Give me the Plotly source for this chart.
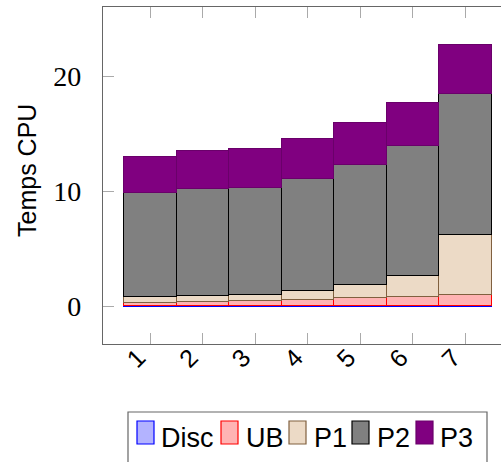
import plotly.graph_objects as go

categories = [1, 2, 3, 4, 5, 6, 7]
tick_labels = ["1", "2", "3", "4", "5", "6", "7"]
disc = [0.05, 0.05, 0.05, 0.05, 0.05, 0.05, 0.05]
ub = [0.24, 0.36, 0.47, 0.56, 0.73, 0.82, 0.99]
p1 = [0.52, 0.52, 0.50, 0.72, 1.13, 1.83, 5.22]
p2 = [9.07, 9.27, 9.27, 9.77, 10.38, 11.27, 12.17]
p3 = [3.08, 3.28, 3.36, 3.42, 3.65, 3.68, 4.24]
series_names = ["Disc", "UB", "P1", "P2", "P3"]
y_ticks = [0, 10, 20]

fills = ["#b3b3ff", "#ffb3b3", "#ecdac6", "#808080", "#800080"]
edges = ["#0000ff", "#ff0000", "#80603f", "#000000", "#6a006a"]

W, H = 501, 462
L, R, T, B = 103, 0, 7, 118
pw, ph = W - L - R, H - T - B

fig = go.Figure()
for name, vals, fc, ec in zip(series_names, [disc, ub, p1, p2, p3], fills, edges):
    fig.add_trace(go.Bar(x=categories, y=vals, name=name, width=1,
                         marker=dict(color=fc, line=dict(color=ec, width=1.2)),
                         showlegend=False, hoverinfo="skip"))

def px_x(x):
    return (x - L) / pw

def px_y(y):
    return (T + ph - y) / ph

shapes = []
annotations = []
# legend box
shapes.append(dict(type="rect", xref="paper", yref="paper",
                   x0=px_x(128), x1=px_x(487), y0=px_y(475), y1=px_y(412),
                   line=dict(color="#666666", width=1.2), fillcolor="white"))
sym_x = [137, 221, 289, 352, 416]
txt_x = [159, 244, 312, 375, 438]
for name, fc, ec, sx, tx in zip(series_names, fills, edges, sym_x, txt_x):
    shapes.append(dict(type="rect", xref="paper", yref="paper",
                       x0=px_x(sx), x1=px_x(sx + 17), y0=px_y(444), y1=px_y(421),
                       line=dict(color=ec, width=1.2), fillcolor=fc))
    annotations.append(dict(text=name, xref="paper", yref="paper",
                            x=px_x(tx), y=px_y(437.5), xanchor="left", yanchor="middle",
                            showarrow=False,
                            font=dict(family="Liberation Sans", size=27, color="black")))

annotations.append(dict(text="Temps CPU", xref="paper", yref="paper",
                        x=px_x(27), y=px_y(171), xanchor="center", yanchor="middle",
                        textangle=-90, showarrow=False,
                        font=dict(family="Liberation Sans", size=25, color="black")))

fig.update_layout(
    width=W, height=H,
    margin=dict(l=L, r=R, t=T, b=B, pad=0, autoexpand=False),
    plot_bgcolor="white", paper_bgcolor="white",
    barmode="stack", bargap=0,
    shapes=shapes, annotations=annotations,
    xaxis=dict(range=[0.1, 7.68], tickmode="array", tickvals=categories,
               ticktext=tick_labels, tickangle=-45, ticks="inside", ticklen=11,
               tickcolor="#aaaaaa", tickwidth=1.2, automargin=False,
               ticklabelshift=-12, ticklabelstandoff=-12,
               showline=True, linecolor="#666666", linewidth=1.3, mirror="allticks",
               showgrid=False, zeroline=False,
               tickfont=dict(family="Liberation Sans", size=25, color="black")),
    yaxis=dict(range=[-3.24, 26.0], tickmode="array", tickvals=y_ticks,
               ticks="inside", ticklen=11, tickcolor="#aaaaaa", tickwidth=1.2,
               showline=True, linecolor="#666666", linewidth=1.3, mirror=False,
               showgrid=False, zeroline=False, ticklabelstandoff=15, automargin=False,
               tickfont=dict(family="Liberation Serif", size=28, color="black")),
)

fig.write_html("out.html", config={"displayModeBar": False},
               post_script="document.body.style.margin='0';document.body.style.overflow='hidden';")
